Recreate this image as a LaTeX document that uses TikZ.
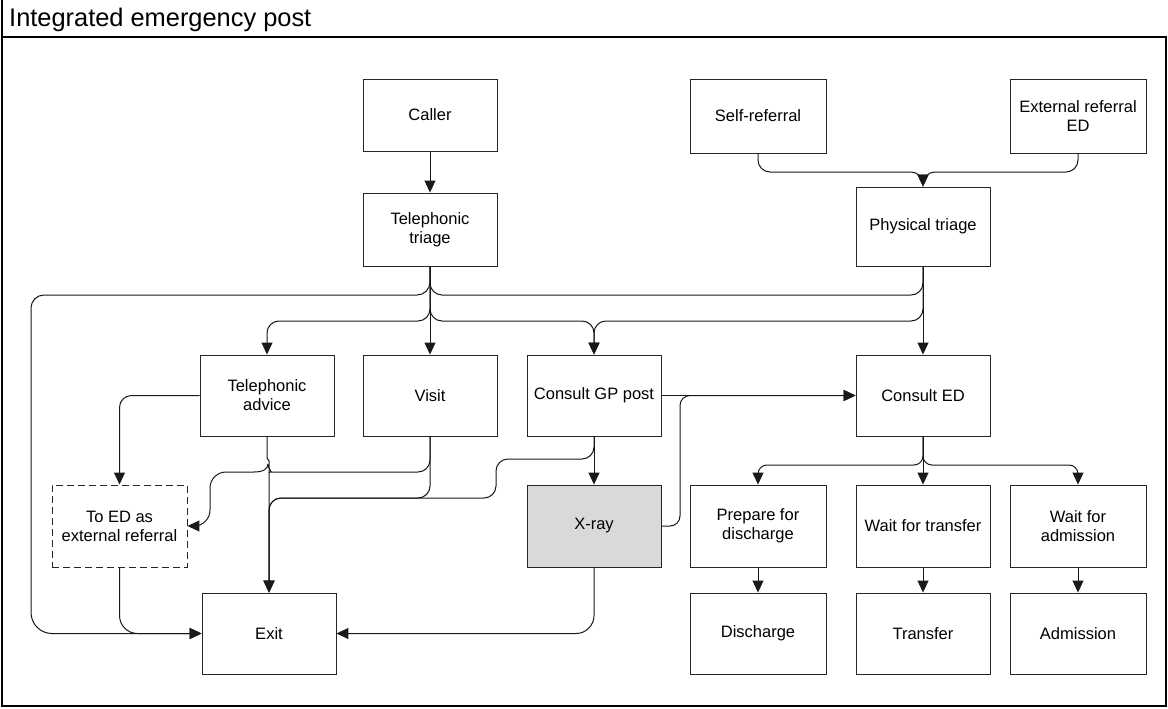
\documentclass[tikz,border=0pt]{standalone}
\usepackage{fontspec}
\setmainfont{Liberation Sans}
\usetikzlibrary{arrows.meta}
\begin{document}
\begin{tikzpicture}[x=1pt,y=-1pt,
  box/.style={draw=black!85, line width=0.9pt, fill=white, minimum width=134pt,
    minimum height=81pt, inner sep=2pt, align=center,
    font=\fontsize{16.5}{19}\selectfont},
  dashbox/.style={box, dash pattern=on 7pt off 4pt},
  conn/.style={draw=black!90, line width=1pt, rounded corners=12pt},
  arr/.style={conn, -{Triangle[length=12pt,width=11pt]}},
]
\useasboundingbox (0,0) rectangle (1168,709);

% outer frame with title strip
\draw[line width=1.2pt] (2,0) -- (2,706) -- (1166,706) -- (1166,37) -- (2,37);
\node[anchor=base west, inner sep=0, font=\fontsize{25.4}{30}\selectfont] (title) at (9,27) {Integrated emergency post};

% entry points
\node[box, minimum height=72pt] (caller) at (430,115) {Caller};
\node[box, minimum height=73pt] (tt) at (430,229.5) {Telephonic\\triage};
\node[box, minimum width=136pt, minimum height=74pt] (self) at (758,116) {Self-referral};
\node[box, minimum width=136pt, minimum height=74pt] (ext) at (1078,116) {External referral\\ED};
\node[box, minimum height=79pt] (pt) at (923,226.5) {Physical triage};

% consultation row
\node[box] (ta) at (267,395.5) {Telephonic\\advice};
\node[box] (visit) at (430,395.5) {Visit};
\node[box] (gp) at (594,395.5) {Consult GP post};
\node[box] (ced) at (923,395.5) {Consult ED};

% follow-up row
\node[dashbox, minimum width=135pt, minimum height=82pt] (toed) at (119.5,526) {To ED as\\external referral};
\node[box, fill=black!15, minimum height=82pt] (xray) at (594,526) {X-ray};
\node[box, minimum width=136pt, minimum height=82pt] (prep) at (758,526) {Prepare for\\discharge};
\node[box, minimum height=82pt] (wft) at (923,526) {Wait for transfer};
\node[box, minimum width=136pt, minimum height=82pt] (wfa) at (1078,526) {Wait for\\admission};

% outcomes
\node[box] (exit) at (269,633.5) {Exit};
\node[box, minimum width=136pt] (dis) at (758,633.5) {Discharge};
\node[box] (tra) at (923,633.5) {Transfer};
\node[box, minimum width=136pt] (adm) at (1078,633.5) {Admission};

% triage
\draw[arr] (caller.south) -- (tt.north);
\draw[arr] (self.south) |- (923,172) [rounded corners=5pt] -- (pt.north);
\draw[arr] (ext.south) |- (923,172) [rounded corners=5pt] -- (pt.north);

% from telephonic triage
\draw[arr] (tt.south) [rounded corners=13pt] |- (31,295) [rounded corners=21pt] |- (exit.west);
\draw[conn] (tt.south) |- (923,295) -- (pt.south);
\draw[arr] (tt.south) |- (267,321) -- (ta.north);
\draw[arr] (tt.south) -- (visit.north);
\draw[arr] (tt.south) |- (594,321) -- (gp.north);

% from physical triage
\draw[arr] (pt.south) |- (594,321) -- (gp.north);
\draw[arr] (pt.south) -- (ced.north);

% from telephonic advice
\draw[arr] (ta.west) -| (toed.north);
\draw[arr, sharp corners] (ta.south) -- (267,458) -- (269,461) -- (exit.north);

% from visit
\coordinate (cusp) at (268,464);
\draw[conn] (visit.south) |- (282,472) .. controls (273,472) and (268,469) .. (cusp);
\draw[conn] (cusp) .. controls (268,469) and (263,472) .. (254,472);
\draw[arr, rounded corners=16pt] (254,472) -- (210,472) -- (210,526) -- (toed.east);
\draw[arr] (visit.south) |- (269,498) -- (exit.north);

% from GP post
\draw[arr] (gp.south) |- (496,459) |- (269,498) -- (exit.north);
\draw[arr] (gp.south) -- (xray.north);
\draw[arr] (gp.east) -- (ced.west);

% from X-ray
\draw[arr] (xray.east) [rounded corners=10pt] -| (680,395.5) [rounded corners=20pt] -- (ced.west);
\draw[arr, rounded corners=18pt] (xray.south) |- (exit.east);
\draw[arr, rounded corners=18pt] (toed.south) |- (exit.west);

% from consult ED
\draw[arr, rounded corners=9pt] (ced.south) |- (758,465) -- (prep.north);
\draw[arr] (ced.south) -- (wft.north);
\draw[arr, rounded corners=9pt] (ced.south) |- (1078,465) -- (wfa.north);

% final outcomes
\draw[arr] (prep.south) -- (dis.north);
\draw[arr] (wft.south) -- (tra.north);
\draw[arr] (wfa.south) -- (adm.north);
\end{tikzpicture}
\end{document}
